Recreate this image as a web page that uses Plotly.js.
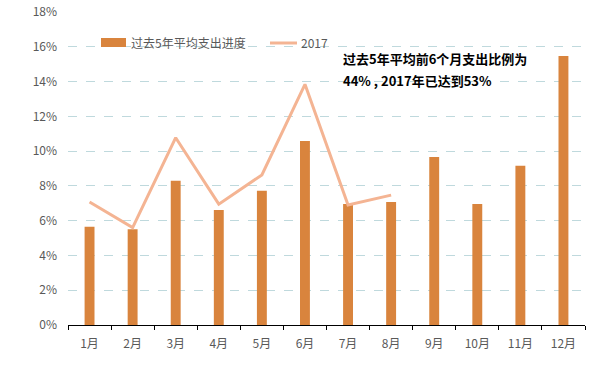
<!DOCTYPE html>
<html><head><meta charset="utf-8">
<script src="https://cdn.plot.ly/plotly-3.0.1.min.js"></script>
<style>body{margin:0;background:#fff}#c{width:595px;height:373px}</style>
</head><body><div id="c"></div>
<script>
const months = ["1月","2月","3月","4月","5月","6月","7月","8月","9月","10月","11月","12月"];
const avg5y = [5.65, 5.5, 8.3, 6.62, 7.72, 10.58, 6.96, 7.07, 9.66, 6.96, 9.16, 15.47];
const months2017 = ["1月","2月","3月","4月","5月","6月","7月","8月"];
const y2017 = [7.07, 5.6, 10.77, 6.95, 8.63, 13.84, 6.9, 7.47];
const yTicks = [0,2,4,6,8,10,12,14,16,18];
const seriesNames = ['过去5年平均支出进度', '2017'];
const font = "Microsoft YaHei, Noto Sans CJK SC, sans-serif";
const barColor = '#D9843D', lineColor = '#F4B493';

const L = 68, T = 12, W = 517, H = 313;
const px = x => (x - L) / W, py = y => (325 - y) / H;

Plotly.newPlot('c', [
  {type:'bar', x:months, y:avg5y, name:seriesNames[0], marker:{color:barColor}},
  {type:'scatter', mode:'lines', x:months2017, y:y2017, name:seriesNames[1], line:{color:lineColor, width:3}}
], {
  width:595, height:373,
  margin:{l:L, r:10, t:T, b:48},
  paper_bgcolor:'#fff', plot_bgcolor:'#fff',
  bargap:0.77,
  font:{family:font, size:12, color:'#595959'},
  showlegend:false,
  xaxis:{type:'category', showline:true, linecolor:'#000', linewidth:1, ticks:'outside', tickson:'boundaries', ticklen:4, tickcolor:'#000', showgrid:false, ticklabelstandoff:8, tickfont:{size:12, color:'#595959'}},
  yaxis:{range:[0,18], tickvals:yTicks, ticktext:yTicks.map(v=>v+'%'), showgrid:true, gridcolor:'#BFD9DD', griddash:'dash', gridwidth:1, zeroline:false, showline:false, ticks:'', ticklen:0, ticklabelstandoff:10, tickfont:{size:12, color:'#595959'}},
  shapes:[
    {type:'rect', xref:'paper', yref:'paper', x0:px(101), x1:px(126), y0:py(47), y1:py(38), fillcolor:barColor, line:{width:0}},
    {type:'line', xref:'paper', yref:'paper', x0:px(270), x1:px(297), y0:py(43), y1:py(43), line:{color:lineColor, width:3}}
  ],
  annotations:[
    {xref:'paper', yref:'paper', x:px(129), y:py(42), xanchor:'left', yanchor:'middle', showarrow:false,
     text:seriesNames[0], font:{size:12, color:'#595959', family:font}},
    {xref:'paper', yref:'paper', x:px(299), y:py(42), xanchor:'left', yanchor:'middle', showarrow:false,
     text:seriesNames[1], font:{size:12, color:'#595959', family:font}},
    {xref:'paper', yref:'paper', x:px(341), y:py(58), xanchor:'left', yanchor:'middle', showarrow:false, align:'left',
     text:'<b>过去5年平均前6个月支出比例为</b>', font:{size:13, color:'#000', family:font}},
    {xref:'paper', yref:'paper', x:px(341), y:py(80), xanchor:'left', yanchor:'middle', showarrow:false, align:'left',
     text:'<b>44% , 2017年已达到53%</b>', font:{size:13, color:'#000', family:font}}
  ]
}, {displayModeBar:false, staticPlot:true});
</script></body></html>
